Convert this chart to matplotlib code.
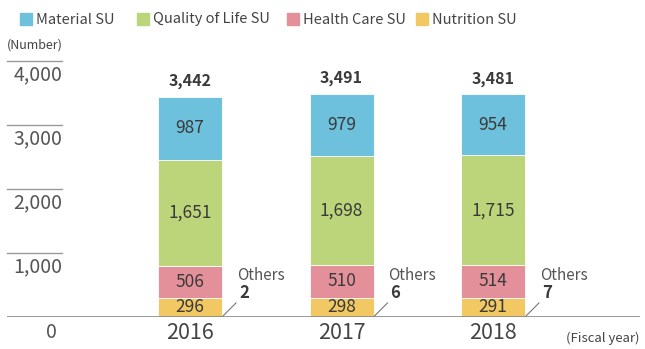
import matplotlib.pyplot as plt
from matplotlib.patches import Rectangle

plt.rcParams['font.family'] = ['Noto Sans CJK JP', 'DejaVu Sans']

years = ['2016', '2017', '2018']
nutrition = [296, 298, 291]
health = [506, 510, 514]
quality = [1651, 1698, 1715]
material = [987, 979, 954]
others = [2, 6, 7]
totals = [3442, 3491, 3481]
yticks = [1000, 2000, 3000, 4000]

series = [
	('Nutrition SU', nutrition, '#f2c862'),
	('Health Care SU', health, '#e3909b'),
	('Quality of Life SU', quality, '#bcd57a'),
	('Material SU', material, '#6dc1dc'),
]
txt = '#3a3a3a'

fig = plt.figure(figsize = (6.45, 3.49), dpi = 100)
W, H = 645., 349.
# axes from x=7..640 px, y=61 (4000) .. 317 (0) px
ax = fig.add_axes([7 / W, (H - 317) / H, 633 / W, 256 / H])
step = 151.5
ax.set_xlim(-(190 - 7) / step, 2 + (640 - 493) / step)
ax.set_ylim(0, 4000)
ax.axis('off')
ax.patch.set_alpha(0)

x = list(range(len(years)))
bw = 64 / step
bottom = [o for o in others]
for name, vals, col in series:
	ax.bar(x, vals, bw, bottom = bottom, color = col, edgecolor = 'white', linewidth = 0.6, zorder = 2)
	for i in x:
		ax.text(i, bottom[i] + vals[i] / 2, '{:,}'.format(vals[i]), ha = 'center', va = 'center',
			fontsize = 12.5, color = txt, zorder = 3)
	bottom = [b + v for b, v in zip(bottom, vals)]

for i in x:
	ax.text(i, totals[i] + 120, '{:,}'.format(totals[i]), ha = 'center', va = 'bottom',
		fontsize = 11.5, fontweight = 'bold', color = txt)
	# leader for the tiny "Others" segment
	x0 = i + bw / 2
	ax.plot([x0, x0 + 14 / step], [0, 220], color = '#777777', lw = 0.8, zorder = 3)
	ax.text(x0 + 15 / step, 656, 'Others', ha = 'left', va = 'center', fontsize = 11, color = '#555555')
	ax.text(x0 + 17 / step, 375, str(others[i]), ha = 'left', va = 'center', fontsize = 12,
		fontweight = 'bold', color = txt)
	ax.text(i, -250, years[i], ha = 'center', va = 'center', fontsize = 15.5, color = '#444444')

# y scale: short rules with labels beneath them
x_left = ax.get_xlim()[0]
for v in yticks:
	ax.plot([x_left, x_left + 55 / step], [v, v], color = '#999999', lw = 1, clip_on = False)
	ax.text(x_left + 55 / step, v - 215, '{:,}'.format(v), ha = 'right', va = 'center',
		fontsize = 14, color = '#555555')
ax.plot(ax.get_xlim(), [0, 0], color = '#888888', lw = 1.2, zorder = 4)
ax.text(x_left + 50 / step, -250, '0', ha = 'right', va = 'center', fontsize = 14, color = '#555555')
ax.text(ax.get_xlim()[1], -340, '(Fiscal year)', ha = 'right', va = 'center', fontsize = 9.5, color = '#444444')

fig.text(7 / W, 1 - 45 / H, '(Number)', ha = 'left', va = 'center', fontsize = 9, color = '#444444')

# legend across the top
leg = [('Material SU', '#6dc1dc', 20), ('Quality of Life SU', '#bcd57a', 137),
	('Health Care SU', '#e3909b', 287), ('Nutrition SU', '#f2c862', 416)]
for name, col, px in leg:
	fig.patches.append(Rectangle((px / W, 1 - 25 / H), 12 / W, 12 / H, transform = fig.transFigure,
		color = col, figure = fig))
	fig.text((px + 16) / W, 1 - 19.5 / H, name, ha = 'left', va = 'center', fontsize = 10.5, color = '#444444')

fig.savefig('out.png', dpi = 100)
